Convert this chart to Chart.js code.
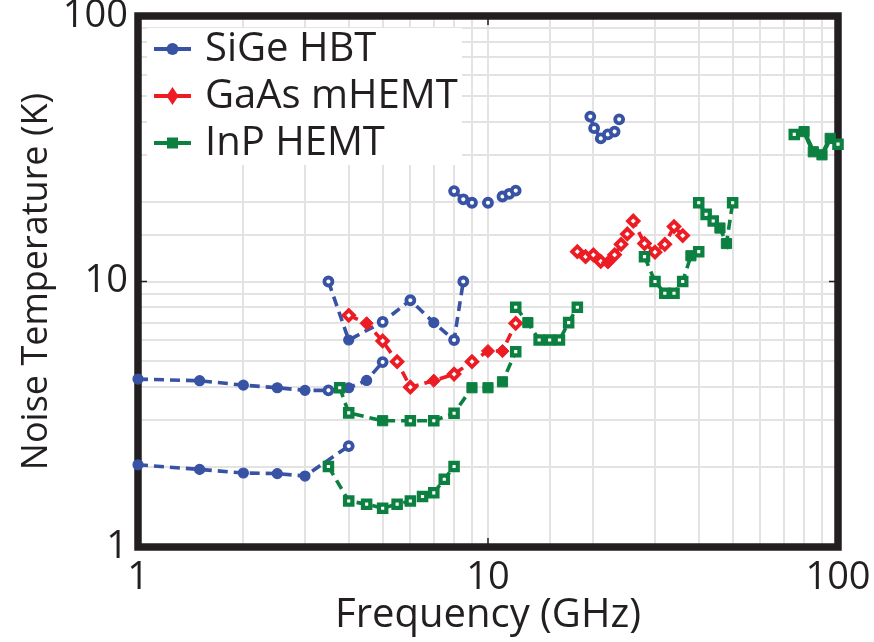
<!DOCTYPE html>
<html>
<head>
<meta charset="utf-8">
<script src="https://cdn.jsdelivr.net/npm/chart.js@4.4.1/dist/chart.umd.min.js"></script>
<style>
html,body{margin:0;padding:0;background:#fff;}
#wrap{width:874px;height:642px;}
</style>
</head>
<body>
<div id="wrap"><canvas id="c" width="874" height="642"></canvas></div>
<script>
// ---------- data ----------
const seriesNames = ['SiGe HBT', 'GaAs mHEMT', 'InP HEMT'];
const xTickLabels = [1, 10, 100];
const yTickLabels = [1, 10, 100];

// SiGe HBT segments (frequency GHz, noise temperature K, open marker flag)
const sigeA_f = [1, 1.5, 2, 2.5, 3, 3.5, 4, 4.5, 5];
const sigeA_T = [4.29, 4.23, 4.07, 3.98, 3.89, 3.89, 3.98, 4.24, 4.97];
const sigeA_open = [0, 0, 0, 0, 0, 1, 0, 0, 1];

const sigeB_f = [1, 1.5, 2, 2.5, 3, 4];
const sigeB_T = [2.04, 1.96, 1.90, 1.89, 1.85, 2.40];
const sigeB_open = [0, 0, 0, 0, 0, 1];

const sigeC_f = [3.5, 4, 5, 6, 7, 8, 8.5];
const sigeC_T = [10.0, 6.02, 7.04, 8.5, 7.0, 6.02, 10.0];
const sigeC_open = [1, 0, 1, 1, 0, 1, 1];

const sigeD_f = [8, 8.5, 9, 10, 11, 11.5, 12];
const sigeD_T = [21.9, 20.4, 19.8, 19.8, 20.9, 21.4, 22.0];
const sigeD_open = [1, 1, 1, 1, 1, 1, 1];

const sigeE_f = [19.6, 20.1, 21, 22, 23, 23.7];
const sigeE_T = [41.8, 37.8, 34.6, 35.8, 36.7, 40.8];
const sigeE_open = [1, 1, 1, 1, 1, 1];

// GaAs mHEMT segments
const gaasA_f = [4, 4.5, 5, 5.5, 6, 7, 8, 9, 10, 11, 12];
const gaasA_T = [7.46, 6.96, 5.97, 4.99, 4.0, 4.23, 4.48, 4.99, 5.47, 5.47, 6.96];
const gaasA_open = [1, 0, 1, 1, 1, 0, 1, 1, 0, 0, 1];

const gaasB_f = [18, 19, 20, 21, 22, 23, 24, 25, 26, 28, 30, 32, 34, 36];
const gaasB_T = [12.95, 12.4, 12.6, 11.9, 11.8, 12.6, 13.8, 15.1, 16.9, 13.9, 12.9, 13.8, 16.1, 14.9];
const gaasB_open = [1, 1, 1, 1, 0, 1, 1, 1, 1, 1, 1, 1, 1, 1];

// InP HEMT segments
const inpA_f = [3.5, 4, 4.5, 5, 5.5, 6, 6.5, 7, 7.5, 8];
const inpA_T = [2.01, 1.49, 1.45, 1.40, 1.45, 1.49, 1.55, 1.60, 1.80, 2.01];
const inpA_open = [1, 1, 1, 1, 1, 1, 1, 1, 1, 1];

const inpB_f = [3.77, 4, 5, 6, 7, 8, 9, 10, 11, 12];
const inpB_T = [3.98, 3.20, 2.99, 2.99, 2.99, 3.19, 3.98, 3.98, 4.19, 5.44];
const inpB_open = [1, 1, 0, 1, 1, 1, 0, 0, 0, 1];

const inpC_f = [12, 13, 14, 15, 16, 17, 18];
const inpC_T = [8.0, 7.0, 6.02, 6.02, 6.02, 7.0, 8.0];
const inpC_open = [1, 0, 1, 1, 1, 1, 1];

const inpD_f = [28, 30, 32, 34, 36, 38, 40];
const inpD_T = [12.4, 10.0, 9.03, 9.03, 10.0, 12.5, 12.95];
const inpD_open = [1, 1, 1, 1, 1, 0, 1];

const inpE_f = [40, 42, 44, 46, 48, 50];
const inpE_T = [19.8, 17.9, 16.9, 15.9, 13.9, 19.8];
const inpE_open = [1, 1, 1, 0, 0, 1];

const inpF_f = [75, 80, 85, 90, 95, 100];
const inpF_T = [35.8, 36.7, 30.8, 30.0, 34.6, 32.9];
const inpF_open = [1, 0, 0, 0, 0, 1];

// ---------- styling ----------
const FONT = "'Open Sans', 'DejaVu Sans', sans-serif";
const TEXT = '#231f20';
const colors = ['#3953a4', '#ed1c24', '#0c8040'];
const styles = ['circle', 'rectRot', 'rect'];
const mk = [
  { r: 5.0, bw: 1.2, ro: 4.0, bwo: 3.8 },   // circle
  { r: 6.6, bw: 1.0, ro: 5.2, bwo: 3.8 },   // diamond
  { r: 7.2, bw: 1.0, ro: 5.2, bwo: 4.2 }    // square
];

function seg(s, f, T, open, solid) {
  const col = colors[s];
  return {
    label: seriesNames[s],
    data: f.map((x, i) => ({ x: x, y: T[i] })),
    borderColor: col,
    borderWidth: solid ? 4.5 : 3.6,
    borderDash: solid ? [] : [10, 6],
    tension: 0,
    fill: false,
    clip: false,
    order: 2 - s,
    pointStyle: styles[s],
    pointBorderColor: col,
    pointBackgroundColor: c => open[c.dataIndex] ? '#ffffff' : col,
    pointRadius: c => open[c.dataIndex] ? mk[s].ro : mk[s].r,
    pointBorderWidth: c => open[c.dataIndex] ? mk[s].bwo : mk[s].bw,
    pointHoverRadius: c => open[c.dataIndex] ? mk[s].ro : mk[s].r
  };
}

const datasets = [
  seg(0, sigeA_f, sigeA_T, sigeA_open),
  seg(0, sigeB_f, sigeB_T, sigeB_open),
  seg(0, sigeC_f, sigeC_T, sigeC_open),
  seg(0, sigeD_f, sigeD_T, sigeD_open),
  seg(0, sigeE_f, sigeE_T, sigeE_open),
  seg(1, gaasA_f, gaasA_T, gaasA_open),
  seg(1, gaasB_f, gaasB_T, gaasB_open),
  seg(2, inpA_f, inpA_T, inpA_open),
  seg(2, inpB_f, inpB_T, inpB_open),
  seg(2, inpC_f, inpC_T, inpC_open),
  seg(2, inpD_f, inpD_T, inpD_open),
  seg(2, inpE_f, inpE_T, inpE_open),
  seg(2, inpF_f, inpF_T, inpF_open, true)
];

function isLabelled(v, list) {
  return list.some(t => Math.abs(v - t) < 1e-6 * t);
}

// frame + decade ticks, drawn under the data
const framePlugin = {
  id: 'frame',
  beforeDatasetsDraw(chart) {
    const { ctx, chartArea: a, scales } = chart;
    ctx.save();
    ctx.strokeStyle = TEXT;
    ctx.lineWidth = 1.5;
    const xp = scales.x.getPixelForValue(10);
    const yp = scales.y.getPixelForValue(10);
    ctx.beginPath();
    ctx.moveTo(xp, a.bottom); ctx.lineTo(xp, a.bottom - 9);
    ctx.moveTo(xp, a.top); ctx.lineTo(xp, a.top + 9);
    ctx.moveTo(a.left, yp); ctx.lineTo(a.left + 9, yp);
    ctx.moveTo(a.right, yp); ctx.lineTo(a.right - 9, yp);
    ctx.stroke();
    ctx.lineWidth = 7.5;
    ctx.strokeRect(a.left, a.top, a.right - a.left, a.bottom - a.top);
    ctx.restore();
  }
};

// legend box inside the plot (line + marker + name)
const legendPlugin = {
  id: 'boxLegend',
  beforeDatasetsDraw(chart) {
    const { ctx, chartArea: a } = chart;
    ctx.save();
    ctx.fillStyle = '#ffffff';
    ctx.fillRect(a.left + 9, a.top + 12, 315, 137);
    seriesNames.forEach((name, s) => {
      const y = a.top + 33 + s * 47;
      const x0 = a.left + 16, x1 = a.left + 53, xm = (x0 + x1) / 2;
      ctx.strokeStyle = colors[s];
      ctx.fillStyle = colors[s];
      ctx.lineWidth = 4;
      ctx.setLineDash([]);
      ctx.beginPath(); ctx.moveTo(x0, y); ctx.lineTo(x1, y); ctx.stroke();
      ctx.beginPath();
      if (s === 0) {
        ctx.arc(xm, y, 6, 0, Math.PI * 2);
      } else if (s === 1) {
        ctx.moveTo(xm, y - 9); ctx.lineTo(xm + 6, y); ctx.lineTo(xm, y + 9); ctx.lineTo(xm - 6, y);
        ctx.closePath();
      } else {
        ctx.rect(xm - 5.5, y - 5.5, 11, 11);
      }
      ctx.fill();
      ctx.fillStyle = TEXT;
      ctx.font = '40px ' + FONT;
      ctx.textBaseline = 'middle';
      ctx.textAlign = 'left';
      ctx.fillText(name, a.left + 67, y + 1);
    });
    ctx.restore();
  }
};

new Chart(document.getElementById('c'), {
  type: 'line',
  data: { datasets: datasets },
  options: {
    responsive: false,
    devicePixelRatio: 1,
    animation: false,
    events: [],
    layout: { padding: { top: 16, right: 36, left: 0, bottom: 0 } },
    plugins: {
      legend: { display: false },
      tooltip: { enabled: false }
    },
    scales: {
      x: {
        type: 'logarithmic',
        min: 1, max: 100,
        border: { display: false },
        grid: { color: '#e3e3e3', lineWidth: 2, drawTicks: false },
        ticks: {
          autoSkip: false, maxRotation: 0, padding: 8,
          color: TEXT, font: { family: FONT, size: 38 },
          callback: v => isLabelled(v, xTickLabels) ? String(v) : ''
        },
        title: {
          display: true, text: 'Frequency (GHz)', color: TEXT,
          font: { family: FONT, size: 40 }, padding: { top: 0, bottom: 2 }
        },
        afterFit(s) { s.height = 95; s.paddingLeft = 0; s.paddingRight = 0; }
      },
      y: {
        type: 'logarithmic',
        min: 1, max: 100,
        border: { display: false },
        grid: { color: '#e3e3e3', lineWidth: 2, drawTicks: false },
        ticks: {
          autoSkip: false, padding: 10,
          color: TEXT, font: { family: FONT, size: 38 },
          callback: v => isLabelled(v, yTickLabels) ? String(v) : ''
        },
        title: {
          display: true, text: 'Noise Temperature (K)', color: TEXT,
          font: { family: FONT, size: 36 }, padding: { top: 15, bottom: 0 }
        },
        afterFit(s) { s.width = 138; s.paddingTop = 0; s.paddingBottom = 0; }
      }
    }
  },
  plugins: [framePlugin, legendPlugin]
});
</script>
</body>
</html>
